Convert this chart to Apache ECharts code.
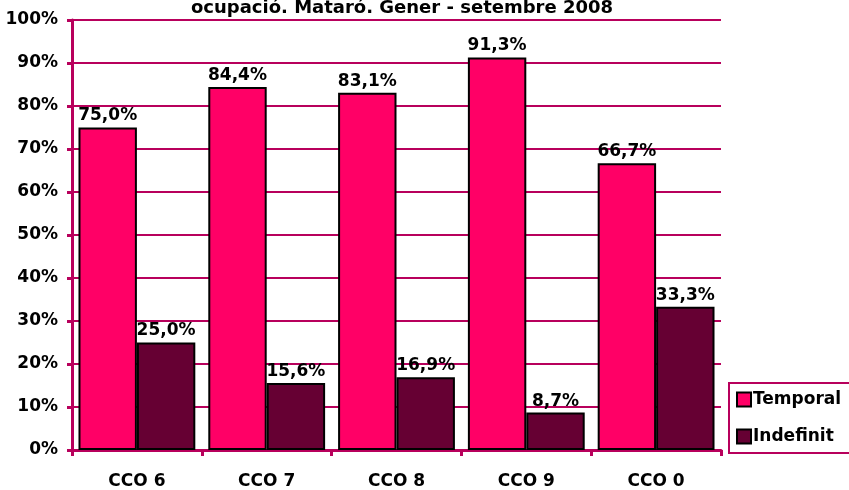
<!DOCTYPE html>
<html>
<head>
<meta charset="utf-8">
<script src="https://cdn.jsdelivr.net/npm/echarts@6/dist/echarts.min.js"></script>
<style>
  html, body { margin: 0; padding: 0; background: #fff; }
  #chart { width: 849px; height: 490px; }
</style>
</head>
<body>
<div id="chart"></div>
<script>
// Contract type share per occupation group (CCO), Mataró, Jan - Sep 2008
const categories = ['CCO 6', 'CCO 7', 'CCO 8', 'CCO 9', 'CCO 0'];
const temporal = [75.0, 84.4, 83.1, 91.3, 66.7];
const indefinit = [25.0, 15.6, 16.9, 8.7, 33.3];
const titleText = 'ocupació. Mataró. Gener - setembre 2008';

const FONT = 'DejaVu Sans';
const LINE = '#b8005c';

const fmt = v => v.toFixed(1).replace('.', ',') + '%';

const chart = echarts.init(document.getElementById('chart'));

const labelStyle = {
  show: true,
  position: 'top',
  distance: 3,
  color: '#000',
  fontFamily: FONT,
  fontWeight: 'bold',
  fontSize: 17,
  formatter: p => fmt(p.value)
};

chart.setOption({
  animation: false,
  backgroundColor: '#fff',
  title: {
    text: titleText,
    left: 397,
    textAlign: 'center',
    top: -6,
    textStyle: { fontFamily: FONT, fontWeight: 'bold', fontSize: 18, color: '#000' }
  },
  grid: { left: 72, right: 128, top: 20, bottom: 40, containLabel: false },
  legend: {
    orient: 'vertical',
    left: 729,
    top: 383,
    width: 140,
    padding: [8, 40, 8, 7],
    itemGap: 20,
    itemWidth: 14,
    itemHeight: 14,
    icon: 'rect',
    borderColor: LINE,
    borderWidth: 2,
    backgroundColor: '#fff',
    textStyle: { fontFamily: FONT, fontWeight: 'bold', fontSize: 17, color: '#000', padding: [0, 0, 0, -3] },
    data: ['Temporal', 'Indefinit']
  },
  xAxis: {
    type: 'category',
    data: categories,
    axisLine: { lineStyle: { color: LINE, width: 3 } },
    axisTick: { show: true, length: 6, lineStyle: { color: LINE, width: 3 } },
    axisLabel: { margin: 23, color: '#000', fontFamily: FONT, fontWeight: 'bold', fontSize: 17 }
  },
  yAxis: {
    type: 'value',
    min: 0,
    max: 100,
    interval: 10,
    axisLine: { show: true, lineStyle: { color: LINE, width: 3 } },
    axisTick: { show: true, length: 5, lineStyle: { color: LINE, width: 3 } },
    splitLine: { lineStyle: { color: LINE, width: 2 } },
    axisLabel: {
      margin: 14,
      color: '#000',
      fontFamily: FONT,
      fontWeight: 'bold',
      fontSize: 17,
      formatter: v => v + '%'
    }
  },
  series: [
    {
      name: 'Temporal',
      type: 'bar',
      data: temporal,
      barGap: '0%',
      barCategoryGap: '10%',
      itemStyle: { color: '#ff0066', borderColor: '#000', borderWidth: 2 },
      label: labelStyle
    },
    {
      name: 'Indefinit',
      type: 'bar',
      data: indefinit,
      itemStyle: { color: '#660033', borderColor: '#000', borderWidth: 2 },
      label: labelStyle
    }
  ]
});
</script>
</body>
</html>
